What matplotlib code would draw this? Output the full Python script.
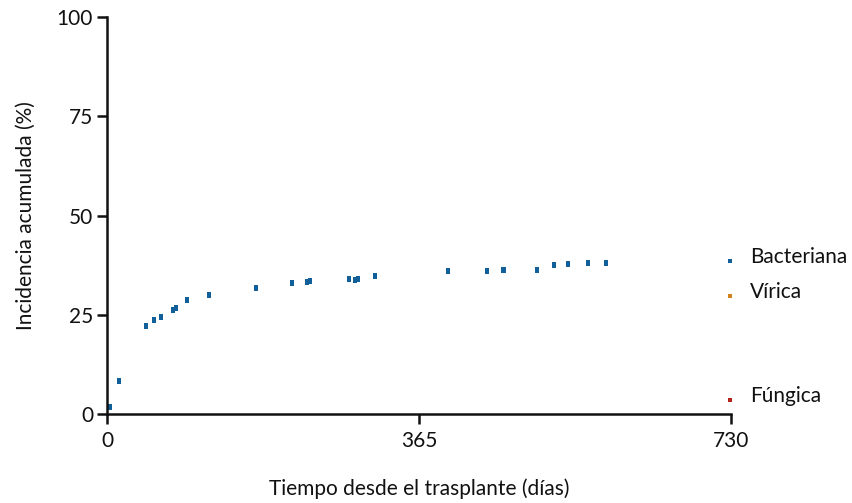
import matplotlib
matplotlib.use("Agg")
import matplotlib.pyplot as plt
import numpy as np

plt.rcParams['font.family'] = ['Lato', 'DejaVu Sans']

# Cumulative incidence of bacterial infection (days after transplant, %)
bact_days = [4, 14, 46, 55, 63, 77, 81, 94, 119, 174, 217, 234, 238, 283, 290, 294,
             314, 399, 445, 463, 464, 503, 523, 539, 563, 584]
bact_pct = [1.8, 8.3, 22.2, 23.8, 24.4, 26.3, 26.8, 28.6, 30.0, 31.8, 32.9, 33.2, 33.5,
            33.9, 33.8, 34.1, 34.8, 36.0, 36.0, 36.2, 36.2, 36.2, 37.5, 37.7, 38.0, 38.0]

series_names = ["Bacteriana", "Vírica", "Fúngica"]
series_colors = ["#12609a", "#d4801c", "#b3231a"]
label_y = [38.5, 29.7, 3.5]

x_ticks = [0, 365, 730]
y_ticks = [0, 25, 50, 75, 100]

FS = 15

fig = plt.figure(figsize=(8.53, 5.03), dpi=100)
ax = fig.add_axes([107 / 853, 89 / 503, 624 / 853, 397 / 503])

# vertical bar-shaped marker
rect = [(-2, -3), (2, -3), (2, 3), (-2, 3), (-2, -3)]
small_rect = [(-1.5, -2), (1.5, -2), (1.5, 2), (-1.5, 2), (-1.5, -2)]

ax.plot(bact_days, bact_pct, linestyle='none', marker=rect, markersize=4.6,
        color=series_colors[0], markeredgewidth=0, clip_on=False)

for name, col, yy in zip(series_names, series_colors, label_y):
    ax.plot([729], [yy], linestyle='none', marker=small_rect, markersize=3.2,
            color=col, markeredgewidth=0, clip_on=False)
    ax.annotate(name, xy=(729, yy), xytext=(14.5, -1.5), textcoords='offset points',
                ha='left', va='baseline', fontsize=FS, color='#111111',
                annotation_clip=False)

ax.set_xlim(0, 730)
ax.set_ylim(0, 100)
ax.set_xticks(x_ticks)
ax.set_yticks(y_ticks)
ax.set_xticklabels([str(t) for t in x_ticks])
ax.set_yticklabels([str(t) for t in y_ticks])

for s in ['top', 'right']:
    ax.spines[s].set_visible(False)
for s in ['left', 'bottom']:
    ax.spines[s].set_linewidth(1.8)
    ax.spines[s].set_color('#111111')

ax.tick_params(axis='both', which='major', length=7, width=1.8, color='#111111',
               labelsize=FS, labelcolor='#111111')
ax.tick_params(axis='x', pad=5)
ax.tick_params(axis='y', pad=3)

ax.set_xlabel("Tiempo desde el trasplante (días)", fontsize=FS, color='#111111', labelpad=20)
ax.set_ylabel("Incidencia acumulada (%)", fontsize=FS, color='#111111', labelpad=15)

fig.savefig("out.png", dpi=100)
